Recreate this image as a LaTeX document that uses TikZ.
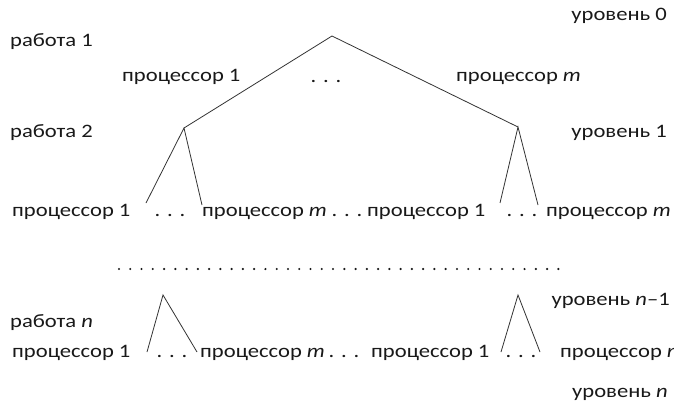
\documentclass[tikz,border=0pt]{standalone}
\usepackage{fontspec}
\setmainfont{Carlito}[FakeStretch=1.19]
\begin{document}
\begin{tikzpicture}[x=1pt,y=-1pt,
  lbl/.style={inner sep=0pt,font=\fontsize{19}{22}\selectfont,text=black!90},
  edge/.style={draw=black!80,line width=0.8pt}]
\useasboundingbox[fill=white] (0,0) rectangle (674,401);
\begin{scope}
\clip (0,0) rectangle (674,401);
% labels
\node[lbl,anchor=base east] (u0) at (667,21) {уровень 0};
\node[lbl,anchor=base west] (w1) at (10,47) {работа 1};
\node[lbl,anchor=base west] (p01) at (122,82) {процессор 1};
\node[lbl,anchor=base] (d0) at (326,83) {. . .};
\node[lbl,anchor=base west] (p0m) at (456,82) {процессор \textit{m}};
\node[lbl,anchor=base west] (w2) at (10,138) {работа 2};
\node[lbl,anchor=base east] (u1) at (667,138) {уровень 1};
% row 2
\node[lbl,anchor=base west] (p11) at (12,216) {процессор 1};
\node[lbl,anchor=base] (d11) at (170,216) {. . .};
\node[lbl,anchor=base west] (p1m) at (202,216) {процессор \textit{m}};
\node[lbl,anchor=base] (d12) at (347,216) {. . .};
\node[lbl,anchor=base west] (p21) at (367,216) {процессор 1};
\node[lbl,anchor=base] (d13) at (522,216) {. . .};
\node[lbl,anchor=base east] (p2m) at (671,216) {процессор \textit{m}};
% row n
\node[lbl,anchor=base east] (un1) at (670,305) {уровень \textit{n}–1};
\node[lbl,anchor=base west] (wn) at (10,327) {работа \textit{n}};
\node[lbl,anchor=base west] (q11) at (12,357) {процессор 1};
\node[lbl,anchor=base] (e11) at (172,357) {. . .};
\node[lbl,anchor=base west] (q1m) at (200,357) {процессор \textit{m}};
\node[lbl,anchor=base] (e12) at (344,357) {. . .};
\node[lbl,anchor=base west] (q21) at (371,357) {процессор 1};
\node[lbl,anchor=base] (e13) at (521,357) {. . .};
\node[lbl,anchor=base west] (q2m) at (560,357) {процессор \textit{m}};
\node[lbl,anchor=base west] (un) at (572,397) {уровень \textit{n}};
\end{scope}
% tree coordinates
\coordinate (r) at (332,36);
\coordinate (a1) at (184,128);
\coordinate (a2) at (518,127);
\coordinate (l11) at (146,203);
\coordinate (l12) at (202,205);
\coordinate (l21) at (500,203);
\coordinate (l22) at (538,205);
\coordinate (b1) at (163,295);
\coordinate (b2) at (518,295);
\coordinate (m11) at (147,352);
\coordinate (m12) at (197,352);
\coordinate (m21) at (501,352);
\coordinate (m22) at (540,352);
\coordinate (dl) at (119,269);
\coordinate (dr) at (558.5,269);
\draw[edge] (a1) -- (r) -- (a2);
\draw[edge] (l11) -- (a1) -- (l12);
\draw[edge] (l21) -- (a2) -- (l22);
\draw[edge] (m11) -- (b1) -- (m12);
\draw[edge] (m21) -- (b2) -- (m22);
\draw[black!90,line width=2.4pt,line cap=round,dash pattern=on 0pt off 11.265pt] (dl) -- (dr);
\end{tikzpicture}
\end{document}
